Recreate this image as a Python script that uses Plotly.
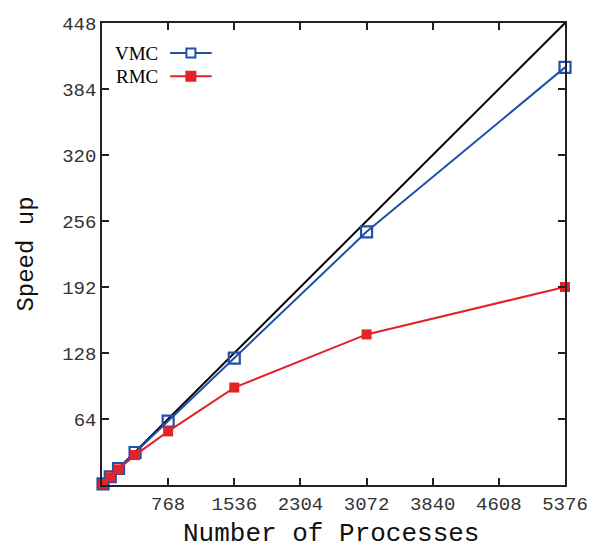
import plotly.graph_objects as go

processes = [12, 96, 192, 384, 768, 1536, 3072, 5376]
vmc_speedup = [1, 8, 16, 31.5, 62, 123, 245.5, 405]
rmc_speedup = [1, 7.6, 15.2, 29, 52, 94.5, 146, 192]
ideal_x = [0, 5376]
ideal_y = [0, 448]
x_ticks = [768, 1536, 2304, 3072, 3840, 4608, 5376]
y_ticks = [64, 128, 192, 256, 320, 384, 448]

BLUE = "#2150a8"
RED = "#e2232a"
MONO = "Liberation Mono, Courier New, monospace"
SERIF = "Liberation Serif, Times New Roman, serif"

fig = go.Figure()
fig.add_trace(go.Scatter(x=ideal_x, y=ideal_y, mode="lines",
                         line=dict(color="black", width=2), showlegend=False,
                         cliponaxis=True))
fig.add_trace(go.Scatter(x=processes, y=vmc_speedup, mode="lines+markers", name="VMC",
                         line=dict(color=BLUE, width=2),
                         marker=dict(symbol="square-open", size=11, color=BLUE,
                                     line=dict(width=2.2, color=BLUE)),
                         cliponaxis=False, showlegend=False))
fig.add_trace(go.Scatter(x=processes, y=rmc_speedup, mode="lines+markers", name="RMC",
                         line=dict(color=RED, width=2),
                         marker=dict(symbol="square", size=10, color=RED),
                         cliponaxis=False, showlegend=False))

# legend drawn as text + sample (text on the left, sample on the right)
legend_items = [("VMC", BLUE, False, 0.935), ("RMC", RED, True, 0.885)]
for label, col, filled, yp in legend_items:
    fig.add_annotation(x=0.125, y=yp, xref="paper", yref="paper", text=label,
                       showarrow=False, xanchor="right", yanchor="middle",
                       font=dict(family=SERIF, size=19, color="black"))
    fig.add_shape(type="line", xref="paper", yref="paper", x0=0.147, x1=0.237,
                  y0=yp, y1=yp, line=dict(color=col, width=2))
    fig.add_shape(type="rect", xref="paper", yref="paper", xsizemode="pixel",
                  ysizemode="pixel", xanchor=0.192, yanchor=yp,
                  x0=-4.5, x1=4.5, y0=-4.5, y1=4.5,
                  line=dict(color=col, width=2),
                  fillcolor=col if filled else "white")

# x-axis title
fig.add_annotation(x=0.495, y=0, xref="paper", yref="paper", text="Number of Processes",
                   showarrow=False, xanchor="center", yanchor="middle", yshift=-49,
                   font=dict(family=MONO, size=26, color="#111"))

axis_common = dict(showline=True, linecolor="#222", linewidth=1.5, mirror="ticks",
                   ticks="inside", ticklen=7, tickwidth=1.5, tickcolor="#222",
                   showgrid=False, zeroline=False, automargin=False,
                   tickfont=dict(family=MONO, size=19, color="#333"))

fig.update_xaxes(range=[0, 5376], tickvals=x_ticks, ticktext=[str(v) for v in x_ticks],
                 **axis_common)
fig.update_yaxes(range=[0, 448], tickvals=y_ticks, ticktext=[str(v) for v in y_ticks],
                 title=dict(text="Speed up", standoff=22,
                            font=dict(family=MONO, size=24, color="#111")),
                 **axis_common)

fig.update_layout(width=601, height=550, margin=dict(l=102, r=36, t=23, b=65),
                  plot_bgcolor="white", paper_bgcolor="white")

fig.write_html("out.html")
